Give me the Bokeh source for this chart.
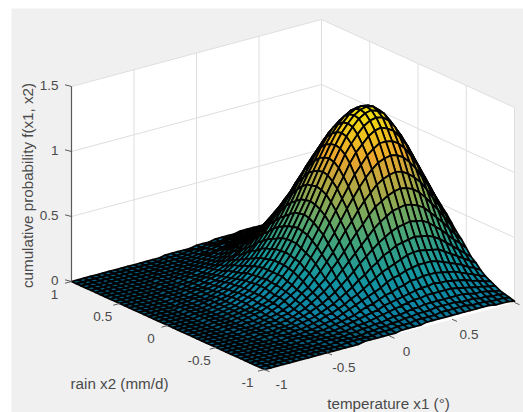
from bokeh.plotting import figure
from bokeh.models import Range1d, ColumnDataSource
from bokeh.core.properties import value
from bokeh.embed import file_html
from bokeh.resources import INLINE

# Estimated surface height (hundredths of f).
# Rows y=-1..1, columns x=-1..1, step 0.05; each row lists its right-hand part, the left of it is flat at 0.
z_rows = [
[1,1,1,1,1,1,2,2,2,2,3,3,3,3,3,3,3,3,3,3,3,2,2,2,1],
[1,1,1,1,1,2,2,2,3,3,3,4,4,4,4,5,5,5,5,5,4,4,4,3,3,3,2],
[1,1,1,1,1,2,2,3,3,4,4,5,5,6,6,6,7,7,7,7,6,6,6,5,5,4,4,3],
[1,1,1,1,2,2,3,3,4,4,5,6,6,7,8,8,9,9,9,9,9,9,9,8,7,7,6,5,4],
[1,1,1,1,2,2,3,4,4,5,6,7,8,9,10,11,12,12,13,13,13,13,13,12,11,10,9,8,7,6],
[1,1,1,1,2,2,3,4,5,6,7,8,9,11,12,13,14,15,16,17,17,18,17,17,16,15,14,12,11,9,8],
[1,1,1,1,2,2,3,4,5,6,7,9,11,12,14,16,17,19,20,22,22,23,23,23,22,21,20,18,16,14,12,10],
[1,1,1,2,2,3,4,5,6,8,10,12,14,16,18,20,23,25,26,28,29,30,30,30,29,27,25,23,21,18,16,13],
[1,1,1,2,2,3,4,5,7,8,10,12,15,17,20,23,26,29,31,33,35,37,38,38,37,36,35,32,29,26,23,20,17],
[1,1,1,2,2,3,4,5,6,8,10,12,15,18,21,25,28,32,35,39,41,44,45,46,47,46,45,43,40,36,32,28,24,20],
[1,1,1,2,2,3,5,6,8,10,12,15,18,22,26,30,35,39,43,47,50,53,55,56,57,56,55,52,48,44,39,34,30,25],
[1,1,1,2,2,3,4,5,7,9,12,15,18,22,26,31,36,41,46,51,56,60,63,66,67,68,67,65,62,57,52,47,41,35,30],
[1,1,1,2,3,3,5,6,8,11,14,17,21,25,31,36,42,48,54,59,65,70,73,76,78,79,78,76,72,67,61,55,48,41,34],
[1,1,1,2,3,4,5,7,9,12,16,19,24,29,35,41,48,55,61,68,74,79,84,87,89,90,89,86,82,77,70,62,55,47,39],
[1,1,1,2,2,3,4,6,8,11,14,17,22,27,33,39,46,53,61,69,76,83,89,94,98,100,101,100,97,92,86,78,70,61,52,44],
[1,1,1,2,3,4,5,7,9,12,15,19,24,29,36,43,51,59,67,75,83,91,97,103,107,110,110,109,106,101,94,86,76,67,57,48],
[1,1,1,2,3,4,5,7,9,12,16,20,26,32,38,46,54,63,72,81,89,98,105,110,115,118,119,117,114,108,101,92,82,72,62,52],
[1,1,1,2,3,4,5,7,10,13,17,22,27,33,40,49,57,66,76,85,94,103,110,116,121,124,125,124,120,114,106,97,86,76,65,55],
[1,1,1,2,3,4,6,8,10,14,17,22,28,34,42,50,59,68,78,88,97,106,114,120,125,128,129,127,124,117,109,100,89,78,67,56],
[1,1,1,2,3,4,6,8,10,14,18,22,28,35,42,51,60,69,79,89,98,107,115,121,126,129,130,129,125,119,110,101,90,79,68,57],
[1,1,1,2,3,4,6,8,10,14,17,22,28,34,42,50,59,68,78,88,97,106,114,120,125,128,129,128,124,118,110,100,89,78,67,56],
[1,1,1,2,3,4,6,8,10,13,17,22,27,34,41,49,58,67,77,86,95,104,111,117,122,125,126,125,121,115,107,98,87,76,66,55],
[1,1,1,2,3,4,5,7,10,13,16,21,26,32,39,47,55,64,74,83,91,100,107,113,117,120,121,120,116,111,103,94,84,74,63,53],
[1,1,1,2,3,4,5,7,9,12,16,20,25,31,37,45,52,61,70,78,86,94,101,107,111,114,115,114,110,105,97,89,79,70,60,50],
[1,1,1,2,2,3,5,6,9,11,14,18,23,29,35,42,49,57,65,73,81,88,94,100,104,106,107,106,103,98,91,83,74,65,56,47],
[1,1,2,2,3,4,6,8,10,13,17,21,26,32,38,45,52,60,67,74,81,87,91,95,97,98,97,94,90,83,76,68,60,51,43],
[1,1,1,2,3,4,5,7,9,12,15,19,24,29,35,41,47,54,60,67,73,78,83,86,88,89,88,85,81,75,69,61,54,46,39],
[1,1,1,2,3,3,5,6,8,11,14,17,21,25,31,36,42,48,54,59,65,70,73,76,78,79,78,76,72,67,61,55,48,41,34],
[1,1,1,2,2,3,4,6,7,9,12,15,18,22,27,32,37,42,47,52,57,61,64,67,68,69,68,66,63,59,54,48,42,36,30],
[1,1,1,2,3,4,5,6,8,10,13,16,19,23,27,32,36,41,45,49,53,55,58,59,60,59,57,54,51,46,41,36,31,26],
[1,1,1,2,2,3,4,5,7,9,11,13,16,20,23,27,31,35,38,42,45,47,49,50,51,50,49,46,43,39,35,31,26,22],
[1,1,1,2,3,3,4,6,7,9,11,14,16,19,22,26,29,32,35,37,39,41,42,42,42,41,39,36,33,29,26,22,18],
[1,1,1,2,2,3,4,5,6,7,9,11,14,16,18,21,24,26,29,31,32,34,34,35,34,33,32,29,27,24,21,18,15],
[1,1,1,2,2,3,4,5,6,7,9,11,13,15,17,19,21,23,25,26,27,28,28,28,27,26,24,22,19,17,15,12],
[1,1,1,1,2,2,3,4,5,6,7,9,10,12,14,15,17,18,20,21,22,22,22,22,21,20,19,17,15,14,12,10],
[1,1,1,1,2,2,3,4,5,6,7,8,9,11,12,13,14,15,16,17,17,18,17,17,16,15,14,12,11,9,8],
[1,1,1,1,2,2,3,4,4,5,6,7,8,9,10,11,12,13,13,14,14,14,13,12,12,11,9,8,7,6],
[1,1,1,1,2,2,3,3,4,5,6,6,7,8,9,9,10,10,10,10,10,10,9,9,8,7,6,5,5],
[1,1,1,1,2,2,3,3,4,4,5,5,6,6,7,7,8,8,8,8,7,7,7,6,5,5,4,3],
[1,1,1,1,2,2,2,3,3,3,4,4,5,5,5,6,6,6,6,5,5,5,4,4,3,3,2],
[1,1,1,1,1,2,2,2,3,3,3,3,4,4,4,4,4,4,4,4,4,3,3,3,2,2],
]
z_hundredths = [[0] * (41 - len(r)) + r for r in z_rows]
x_grid = [i * 0.05 - 1 for i in range(41)]
y_grid = [i * 0.05 - 1 for i in range(41)]

x_ticks = [-1, -0.5, 0, 0.5]
y_ticks = [-1, -0.5, 0, 0.5, 1]
z_ticks = [0, 0.5, 1, 1.5]
x_tick_labels = ["-1", "-0.5", "0", "0.5"]
y_tick_labels = ["-1", "-0.5", "0", "0.5", "1"]
z_tick_labels = ["0", "0.5", "1", "1.5"]

color_levels = [0.0, 0.06, 0.25, 0.5, 0.7, 1.0, 1.3]
color_stops = [(8, 90, 120), (12, 130, 165), (20, 150, 160), (70, 165, 120), (135, 170, 85), (235, 165, 45), (240, 225, 15)]

W, H = 523, 412
FRONT = (264.0, 369.0)
XV = (125.0, -33.5)
YV = (-96.5, -44.0)
ZPX = 130.0
TEXT = "#4a4a4a"
FONT = value("Liberation Sans")


def proj(x, y, z):
    return (FRONT[0] + (x + 1) * XV[0] + (y + 1) * YV[0],
            FRONT[1] + (x + 1) * XV[1] + (y + 1) * YV[1] - z * ZPX)


def color_for(z):
    for k in range(len(color_levels) - 1):
        if z <= color_levels[k + 1]:
            t = (z - color_levels[k]) / (color_levels[k + 1] - color_levels[k])
            c = [round(a + (b - a) * t) for a, b in zip(color_stops[k], color_stops[k + 1])]
            return "#%02x%02x%02x" % tuple(c)
    return "#%02x%02x%02x" % color_stops[-1]


p = figure(width=W, height=H, output_backend="svg", toolbar_location=None,
           x_range=Range1d(0, W), y_range=Range1d(H, 0),
           x_axis_type=None, y_axis_type=None, min_border=0, outline_line_color=None,
           background_fill_color="white", border_fill_color="white")
p.grid.visible = False

# grey window
p.quad(left=[11], right=[W], top=[8], bottom=[H], fill_color="#f0f0f0", line_color=None)

# walls
corners = [(-1, 1), (1, 1), (1, -1), (-1, -1)]
fx, fy = zip(*[proj(a, b, 0) for a, b in corners])
p.patch(list(fx), list(fy), fill_color="white", line_color=None)
for (a0, b0), (a1, b1) in [((-1, 1), (1, 1)), ((1, 1), (1, -1))]:
    pts = [proj(a0, b0, 0), proj(a1, b1, 0), proj(a1, b1, 1.5), proj(a0, b0, 1.5)]
    p.patch([q[0] for q in pts], [q[1] for q in pts], fill_color="white", line_color=None)

GRID = "#dedede"
grid_x, grid_y = [], []
for t in [-1, -0.5, 0, 0.5, 1]:
    a, b = proj(t, 1, 0), proj(t, 1, 1.5)
    grid_x.append([a[0], b[0]]); grid_y.append([a[1], b[1]])
    a, b = proj(1, t, 0), proj(1, t, 1.5)
    grid_x.append([a[0], b[0]]); grid_y.append([a[1], b[1]])
for zt in z_ticks[1:]:
    a, b, c = proj(-1, 1, zt), proj(1, 1, zt), proj(1, -1, zt)
    grid_x.append([a[0], b[0], c[0]]); grid_y.append([a[1], b[1], c[1]])
p.multi_line(grid_x, grid_y, line_color=GRID, line_width=1)

# surface: painted from the far corner to the near one
xs, ys, cols = [], [], []
for j in range(len(y_grid) - 2, -1, -1):
    for i in range(len(x_grid) - 2, -1, -1):
        idx = [(i, j), (i + 1, j), (i + 1, j + 1), (i, j + 1)]
        pts = [proj(x_grid[m], y_grid[n], z_hundredths[n][m] / 100) for m, n in idx]
        xs.append([q[0] for q in pts])
        ys.append([q[1] for q in pts])
        cols.append(color_for(sum(z_hundredths[n][m] for m, n in idx) / 400))
p.patches("xs", "ys", source=ColumnDataSource(dict(xs=xs, ys=ys, c=cols)),
          fill_color="c", line_color="black", line_width=1.8, line_join="round")

# axis lines and ticks
AX = "#5a5a5a"
a, b = proj(-1, 1, 0), proj(-1, 1, 1.5)
p.line([a[0], b[0]], [a[1], b[1]], line_color=AX, line_width=1.2)
tx, ty = [], []
for zt in z_ticks:
    a = proj(-1, 1, zt)
    tx.append([a[0], a[0] - 6.5]); ty.append([a[1], a[1] - 1.7])
for t in y_ticks:
    a = proj(-1, t, 0)
    tx.append([a[0], a[0] - 6.5]); ty.append([a[1], a[1] + 1.7])
for t in x_ticks + [1]:
    a = proj(t, -1, 0)
    tx.append([a[0], a[0] + 5]); ty.append([a[1], a[1] + 2.2])
p.multi_line(tx, ty, line_color=AX, line_width=1)

# tick labels
lx, ly, lt = [], [], []
for t, s in zip(x_ticks, x_tick_labels):
    a = proj(t, -1, 0)
    lx.append(a[0] + 17); ly.append(a[1] + 15); lt.append(s)
for t, s in zip(y_ticks, y_tick_labels):
    a = proj(-1, t, 0)
    lx.append(a[0] - 17); ly.append(a[1] + 13); lt.append(s)
p.text(lx, ly, text=lt, text_font=FONT, text_font_size="13.5px", text_color=TEXT,
       text_align="center", text_baseline="middle")
zx, zy = [], []
for zt in z_ticks:
    a = proj(-1, 1, zt)
    zx.append(a[0] - 13); zy.append(a[1] - 1)
p.text(zx, zy, text=z_tick_labels, text_font=FONT, text_font_size="13.5px", text_color=TEXT,
       text_align="right", text_baseline="middle")

# axis labels
p.text([119], [383], text=["rain x2 (mm/d)"], text_font=FONT, text_font_size="15.2px",
       text_color=TEXT, text_align="center", text_baseline="middle")
p.text([388], [403], text=["temperature x1 (°)"], text_font=FONT, text_font_size="15.2px",
       text_color=TEXT, text_align="center", text_baseline="middle")
p.text([27], [185], text=["cumulative probability f(x1, x2)"], angle=[1.5708], text_font=FONT,
       text_font_size="15.2px", text_color=TEXT, text_align="center", text_baseline="middle")

open("out.html", "w").write(file_html(p, INLINE))
